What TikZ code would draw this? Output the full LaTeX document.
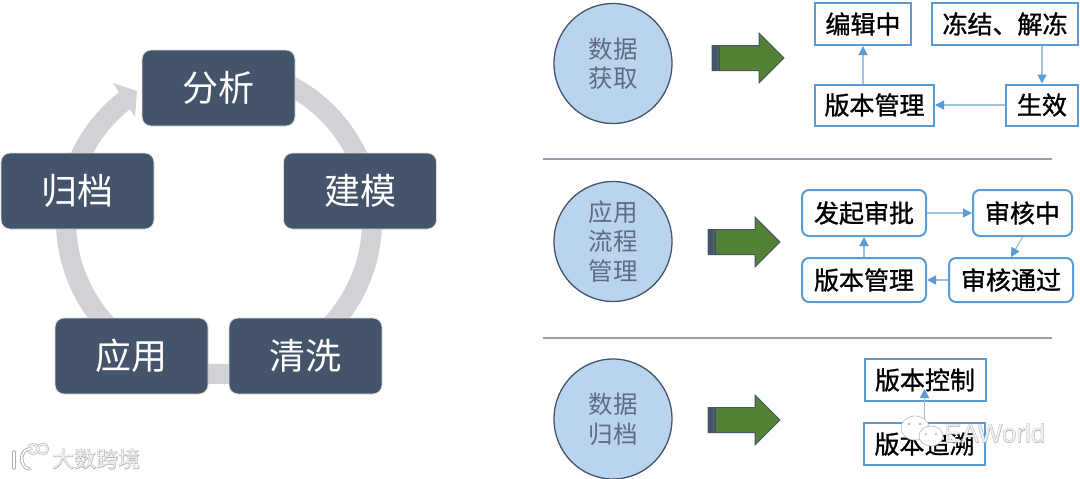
\documentclass[tikz,border=0pt]{standalone}
\usepackage{fontspec}
\setmainfont{Noto Sans CJK SC}
\newfontfamily\markfont[FakeBold=3]{Noto Sans CJK SC}
\newfontfamily\boxfont[FakeBold=1.1]{Noto Sans CJK SC}
\newfontfamily\latinmark{Liberation Sans}
\newfontfamily\latinmarkb[FakeBold=2.5]{Liberation Sans}
\usetikzlibrary{arrows.meta,calc,shapes.geometric}
\definecolor{navy}{HTML}{44546A}
\definecolor{ringc}{HTML}{D0D2D6}
\definecolor{bub}{HTML}{BAD4EE}
\definecolor{bubtxt}{HTML}{5C6D84}
\definecolor{grn}{HTML}{548235}
\definecolor{edgeb}{HTML}{5B9BD5}
\definecolor{lineb}{HTML}{9DC3E6}
\definecolor{rulec}{HTML}{9AA0AA}
\newcommand{\lifted}[1]{\raisebox{1.5pt}{#1}}
\tikzset{
  phase/.style={draw=white!80!navy,line width=.8pt,fill=navy,rounded corners=9pt,text=white,inner sep=0,font=\fontsize{36}{36}\selectfont,minimum width=153pt,minimum height=76pt},
  bubble/.style={ellipse,draw=navy,line width=1.3pt,fill=bub,text=bubtxt,inner sep=0,align=center,minimum width=118pt,minimum height=120pt,font=\fontsize{24.5}{29.5}\selectfont},
  sq/.style={draw=edgeb,line width=2pt,fill=white,text=black,inner sep=0,font=\boxfont\fontsize{25}{25}\selectfont},
  rd/.style={sq,rounded corners=7pt},
  flow/.style={draw=lineb,line width=1.3pt,-{Triangle[length=9pt,width=9pt,color=edgeb]}},
  sep/.style={draw=rulec,line width=2pt},
  block/.style={fill=grn,draw=navy,line width=1pt},
  band/.style={fill=navy},
  wmdark/.style={text=black!32,inner sep=0},
  wmlight/.style={text=white!94!black,inner sep=0},
}
\newcommand{\bigarrow}[2]{%
  \draw[block] (#1,#2-12.5)--(#1+47,#2-12.5)--(#1+47,#2-25)--(#1+72,#2)--(#1+47,#2+25)--(#1+47,#2+12.5)--(#1,#2+12.5)--cycle;
  \fill[band] (#1,#2-13) rectangle (#1+8,#2+13);
  \fill[grn!70!navy] (#1+4.5,#2-12) rectangle (#1+5.5,#2+12);
}
\begin{document}
\begin{tikzpicture}[x=1pt,y=-1pt]
\useasboundingbox (0,0) rectangle (1080,479);
% ring
\draw[ringc,line width=20pt] plot[domain=127.8:422,samples=150] ({219+153*cos(\x)},{221-153*sin(\x)});
\fill[ringc] (137,91)--(113,83)--(135,117)--cycle;
\node[phase] (fx) at (218.5,88) {\lifted{分析}};
\node[phase] (jm) at (360,191) {\lifted{建模}};
\node[phase] (gd) at (77.5,191) {\lifted{归档}};
\node[phase] (yy) at (131.5,356) {\lifted{应用}};
\node[phase] (qx) at (305.5,356) {\lifted{清洗}};
% rules
\coordinate (r1a) at (543,159); \coordinate (r1b) at (1052,159);
\coordinate (r2a) at (543,338); \coordinate (r2b) at (1052,338);
\draw[sep] (r1a)--(r1b);
\draw[sep] (r2a)--(r2b);
% bubbles
\node[bubble] (c1) at (613,63.5) {数据\\获取};
\node[bubble] (c2) at (613,241.5) {应用\\流程\\管理};
\node[bubble] (c3) at (613,419) {数据\\归档};
\bigarrow{712}{58}
\bigarrow{708}{242}
\bigarrow{708}{420}
% row 1
\node[sq,minimum width=96pt,minimum height=42pt] (a1) at (863,24) {编辑中};
\node[sq,minimum width=146pt,minimum height=42pt] (a2) at (1005,24) {冻结、解冻};
\node[sq,minimum width=119pt,minimum height=41pt] (a3) at (874.5,105) {版本管理};
\node[sq,minimum width=72pt,minimum height=41pt] (a4) at (1042,105) {生效};
\draw[flow] (a3.north -| a1) -- (a1.south);
\draw[flow] (a2.south -| a4) -- (a4.north);
\draw[flow] (a4.west) -- (a3.east);
% row 2
\node[rd,minimum width=124pt,minimum height=46pt] (b1) at (864,213) {发起审批};
\node[rd,minimum width=99pt,minimum height=46pt] (b2) at (1022.5,213) {审核中};
\node[rd,minimum width=124pt,minimum height=44pt] (b3) at (864,280) {版本管理};
\node[rd,minimum width=124pt,minimum height=44pt] (b4) at (1011,280) {审核通过};
\draw[flow] (b1.east) -- (b2.west);
\draw[flow] (b2.south) -- (b4.north);
\draw[flow] (b4.west) -- (b3.east);
\draw[flow] (b3.north) -- (b1.south);
% row 3
\node[sq,minimum width=121pt,minimum height=42pt] (d1) at (925,380) {版本控制};
\node[sq,minimum width=121pt,minimum height=42pt] (d2) at (924.5,444) {版本追溯};
\coordinate (d1t) at (924.5,389);
\draw[flow] (d2.north) -- (d1t);
% watermark EAWorld
\node[wmdark,font=\latinmarkb\fontsize{26}{26}\selectfont,anchor=west] (w1) at (944,433) {EAWorld};
\node[wmlight,font=\latinmark\fontsize{26}{26}\selectfont,anchor=west] (w2) at (944,433) {EAWorld};
\draw[black!22,fill=white,line width=.8pt] (915,428) ellipse (14pt and 12pt);
\draw[black!22,fill=white,line width=.8pt] (931,436) ellipse (12pt and 10pt);
\fill[black!30] (909,424) circle (1.3pt) (920,424) circle (1.3pt) (926,434) circle (1.1pt) (936,434) circle (1.1pt);
% watermark left
\node[wmdark,font=\markfont\fontsize{22}{22}\selectfont,anchor=west] (w3) at (52,459) {大数跨境};
\node[wmlight,font=\fontsize{22}{22}\selectfont,anchor=west] (w4) at (52,459) {大数跨境};
\draw[black!32,line width=3.4pt,line cap=round] (14,452)--(14,468);
\draw[black!32,line width=3.4pt,line cap=round] (31,449) arc (80:270:8pt and 10pt);
\draw[black!32,line width=2.2pt] (33,449) circle (5pt) (43,449) circle (5pt);
\draw[white,line width=1.6pt,line cap=round] (14,452)--(14,468);
\draw[white,line width=1.6pt,line cap=round] (31,449) arc (80:270:8pt and 10pt);
\draw[white,line width=1pt] (33,449) circle (5pt) (43,449) circle (5pt);
\end{tikzpicture}
\end{document}
